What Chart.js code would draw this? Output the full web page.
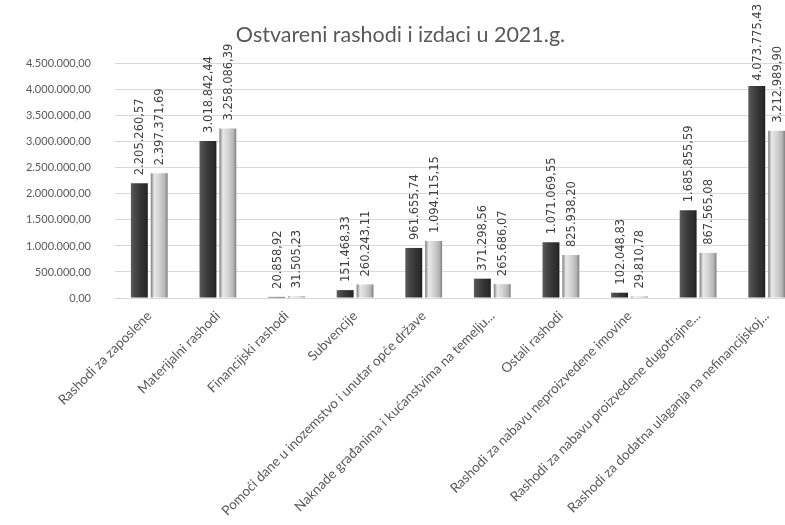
<!DOCTYPE html>
<html>
<head>
<meta charset="utf-8">
<script src="https://cdn.jsdelivr.net/npm/chart.js@4.4.1/dist/chart.umd.min.js"></script>
<style>
	html, body { margin: 0; padding: 0; background: #fff; overflow: hidden; }
	#chart { display: block; }
</style>
</head>
<body>
<canvas id="chart" width="805" height="525"></canvas>
<script>
const categories = [
	"Rashodi za zaposlene",
	"Materijalni rashodi",
	"Financijski rashodi",
	"Subvencije",
	"Pomoći dane u inozemstvo i unutar opće države",
	"Naknade građanima i kućanstvima na temelju...",
	"Ostali rashodi",
	"Rashodi za nabavu neproizvedene imovine",
	"Rashodi za nabavu proizvedene dugotrajne...",
	"Rashodi za dodatna ulaganja na nefinancijskoj...",
];
const plan = [2205260.57, 3018842.44, 20858.92, 151468.33, 961655.74, 371298.56, 1071069.55, 102048.83, 1685855.59, 4073775.43];
const ostvareno = [2397371.69, 3258086.39, 31505.23, 260243.11, 1094115.15, 265686.07, 825938.2, 29810.78, 867565.08, 3212989.9];
const yMax = 4500000;
const yStep = 500000;

// 1234567.8 -> "1.234.567,80"
const fmt = (v) => {
	let parts = Math.abs(v).toFixed(2).split(".");
	let whole = parts[0].replace(/\B(?=(\d{3})+(?!\d))/g, ".");
	return (v < 0 ? "-" : "") + whole + "," + parts[1];
};

// bevel-ish look of the Excel bars
const shades = [
	[[0, "#5e5e5e"], [0.18, "#4c4c4c"], [0.55, "#363636"], [0.85, "#2c2c2c"], [1, "#1e1e1e"]],
	[[0, "#7a7a7a"], [0.2, "#e8e8e8"], [0.5, "#d4d4d4"], [0.82, "#b6b6b6"], [1, "#808080"]],
];

// draw each bar itself so every one gets its own gradient
const barShade = {
	id: "barShade",
	beforeDatasetDraw(chart, args) {
		const ctx = chart.ctx;
		const stops = shades[args.index];
		args.meta.data.forEach((bar) => {
			const half = bar.width / 2;
			const g = ctx.createLinearGradient(bar.x - half, 0, bar.x + half, 0);
			stops.forEach((s) => g.addColorStop(s[0], s[1]));
			bar.options.backgroundColor = g;
			bar.draw(ctx, chart.chartArea);
		});
		return false;
	},
};

const valueLabels = {
	id: "valueLabels",
	afterDatasetsDraw(chart) {
		const ctx = chart.ctx;
		ctx.save();
		ctx.font = "11.5px 'DejaVu Sans'";
		ctx.fillStyle = "#404040";
		ctx.textAlign = "left";
		ctx.textBaseline = "middle";
		chart.data.datasets.forEach((ds, di) => {
			chart.getDatasetMeta(di).data.forEach((bar, i) => {
				const txt = fmt(ds.data[i]);
				const w = ctx.measureText(txt).width;
				let start = bar.y - 8;
				if (start - w < 4) start = 4 + w;
				ctx.save();
				ctx.translate(bar.x + 1, start);
				ctx.rotate(-Math.PI / 2);
				ctx.fillText(txt, 0, 0);
				ctx.restore();
			});
		});
		ctx.restore();
	},
};

const chart = new Chart(document.getElementById("chart"), {
	type: "bar",
	data: {
		labels: categories,
		datasets: [
			{ label: "Plan", data: plan, backgroundColor: "#3a3a3a", borderWidth: 0 },
			{ label: "Ostvareno", data: ostvareno, backgroundColor: "#cfcfcf", borderWidth: 0 },
		],
	},
	options: {
		responsive: false,
		animation: false,
		categoryPercentage: 0.58,
		barPercentage: 0.85,
		layout: { padding: { left: 0, right: 4, top: 0, bottom: 0 } },
		plugins: {
			legend: { display: false },
			tooltip: { enabled: false },
			title: {
				display: true,
				text: "Ostvareni rashodi i izdaci u 2021.g.",
				color: "#595959",
				font: { family: "Lato", size: 21.5, weight: "normal" },
				padding: { top: 22, bottom: 16 },
			},
		},
		scales: {
			x: {
				grid: { display: false },
				border: { display: true, color: "#d9d9d9", width: 1 },
				ticks: {
					color: "#595959",
					font: { family: "Lato", size: 13.5 },
					minRotation: 45,
					maxRotation: 45,
					autoSkip: false,
					padding: 2,
				},
				afterFit: (scale) => { scale.height = 227; },
			},
			y: {
				min: 0,
				max: yMax,
				grid: { color: "#d9d9d9", drawTicks: false },
				border: { display: false },
				ticks: {
					stepSize: yStep,
					color: "#595959",
					font: { family: "Lato", size: 11 },
					padding: 24,
					callback: (v) => fmt(v),
				},
				afterFit: (scale) => { scale.width = 115; },
			},
		},
	},
	plugins: [barShade, valueLabels],
});
</script>
</body>
</html>
